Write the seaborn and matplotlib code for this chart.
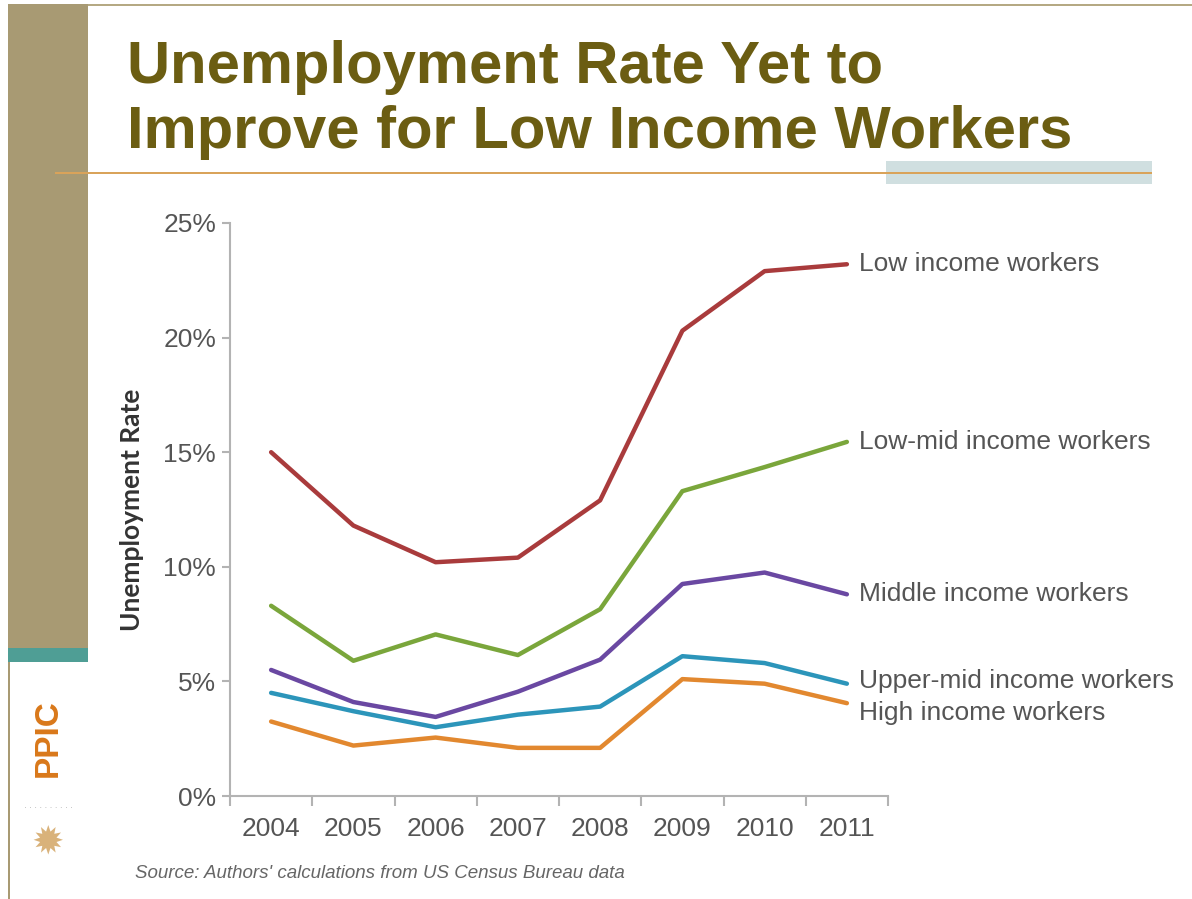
"""Unemployment rate by income group, 2004-2011 (PPIC slide)."""

import matplotlib

matplotlib.use("Agg")
import matplotlib.pyplot as plt
from matplotlib.patches import Rectangle
import pandas as pd
import seaborn as sns

# ---------------------------------------------------------------------------
# Data
# ---------------------------------------------------------------------------

YEARS = [2004, 2005, 2006, 2007, 2008, 2009, 2010, 2011]
GROUPS = [
    "Low income workers",
    "Low-mid income workers",
    "Middle income workers",
    "Upper-mid income workers",
    "High income workers",
]
LOW = [15.0, 11.8, 10.2, 10.4, 12.9, 20.3, 22.9, 23.2]
LOW_MID = [8.3, 5.9, 7.05, 6.15, 8.15, 13.3, 14.35, 15.45]
MIDDLE = [5.5, 4.1, 3.45, 4.55, 5.95, 9.25, 9.75, 8.8]
UPPER_MID = [4.5, 3.7, 3.0, 3.55, 3.9, 6.1, 5.8, 4.9]
HIGH = [3.25, 2.2, 2.55, 2.1, 2.1, 5.1, 4.9, 4.05]

COLOURS = ["#a93b3c", "#7aa63b", "#6a48a2", "#2c95ba", "#e2882f"]
LABEL_OFFSETS = [0.0, 0.0, 0.0, 0.1, -0.45]  # nudge the two close labels apart

TITLE = "Unemployment Rate Yet to\nImprove for Low Income Workers"
SOURCE = "Source: Authors' calculations from US Census Bureau data"

series = [LOW, LOW_MID, MIDDLE, UPPER_MID, HIGH]
df = pd.DataFrame(
    [
        {"year": y, "rate": v, "group": g}
        for g, vals in zip(GROUPS, series)
        for y, v in zip(YEARS, vals)
    ]
)

# ---------------------------------------------------------------------------
# Figure
# ---------------------------------------------------------------------------

sns.set_theme(style="white")
plt.rcParams["font.family"] = ["Liberation Sans", "DejaVu Sans"]

W, H = 1192, 899
fig = plt.figure(figsize=(W / 100, H / 100), dpi=100)
fig.patch.set_facecolor("white")


def px(x, y):
    """Pixel coords (top-left origin) -> figure fraction."""
    return x / W, 1 - y / H


def rect_px(x0, y0, x1, y1, **kw):
    fig.patches.append(
        Rectangle(
            (x0 / W, 1 - y1 / H),
            (x1 - x0) / W,
            (y1 - y0) / H,
            transform=fig.transFigure,
            **kw,
        )
    )


# slide decoration
rect_px(8, 4, 1192, 6, color="#b5a983", lw=0)
rect_px(8, 4, 88, 648, color="#a89a73", lw=0)
rect_px(8, 648, 88, 662, color="#4f9e95", lw=0)
rect_px(8, 662, 10, 899, color="#a89a73", lw=0)
rect_px(886, 161, 1152, 184, color="#d0dfe0", lw=0)
rect_px(55, 172, 1152, 174, color="#d9a35a", lw=0)

fig.text(*px(127, 100), TITLE, fontsize=43, fontweight="bold", color="#6b5d12",
         va="center", ha="left", linespacing=1.25)

fig.text(*px(48, 738), "PPIC", fontsize=24, fontweight="bold", color="#d9781a",
         rotation=90, ha="center", va="center")
fig.text(*px(48, 808), "· · · · · · · · · ·", fontsize=6, color="#aaaaaa",
         ha="center", va="center")
fig.text(*px(48, 843), "\u2739", fontsize=28, color="#d9b27a",
         ha="center", va="center", family="DejaVu Sans")

fig.text(*px(135, 873), SOURCE, fontsize=13.5, style="italic", color="#666666",
         ha="left", va="center")

# chart
ax = fig.add_axes([230 / W, 1 - 796 / H, 658 / W, 573 / H])
sns.lineplot(
    data=df,
    x="year",
    y="rate",
    hue="group",
    hue_order=GROUPS,
    palette=COLOURS,
    linewidth=3.2,
    legend=False,
    ax=ax,
)

ax.set_xlim(YEARS[0] - 0.5, YEARS[-1] + 0.5)
ax.set_ylim(0, 25)
ax.set_yticks([0, 5, 10, 15, 20, 25])
ax.set_yticklabels([f"{t}%" for t in [0, 5, 10, 15, 20, 25]])
ax.set_xticks(YEARS)
ax.set_xticklabels([str(y) for y in YEARS])
ax.set_xticks([y - 0.5 for y in YEARS] + [YEARS[-1] + 0.5], minor=True)

for side in ["top", "right"]:
    ax.spines[side].set_visible(False)
for side in ["left", "bottom"]:
    ax.spines[side].set_color("#b3b3b3")
    ax.spines[side].set_linewidth(1.5)

ax.tick_params(axis="y", which="major", left=True, length=6, width=1.5,
               color="#b3b3b3", labelsize=19, labelcolor="#555555", pad=4)
ax.tick_params(axis="x", which="major", bottom=False, labelsize=19,
               labelcolor="#555555", pad=9)
ax.tick_params(axis="x", which="minor", bottom=True, length=7, width=1.5,
               color="#b3b3b3")

ax.set_xlabel("")
ax.set_ylabel("Unemployment Rate", fontsize=19, fontweight="bold",
              color="#333333", labelpad=14, family=["Lato", "DejaVu Sans"])

for name, vals, colour, off in zip(GROUPS, series, COLOURS, LABEL_OFFSETS):
    ax.text(YEARS[-1] + 0.15, vals[-1] + off, name, fontsize=19,
            color="#555555", va="center", ha="left", clip_on=False)

fig.savefig("out.png", dpi=100)
